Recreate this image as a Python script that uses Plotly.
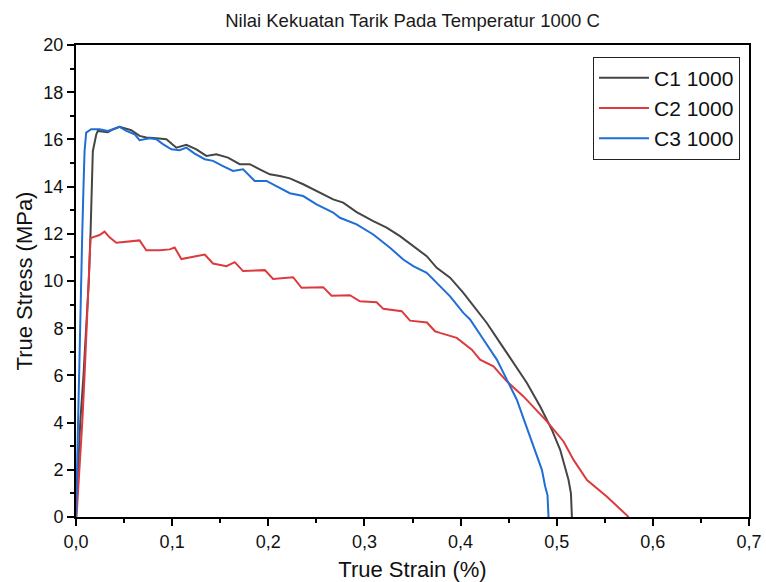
import plotly.graph_objects as go

# C1 1000 (black)
c1_strain = [0.0, 0.002, 0.0044, 0.0078, 0.0106, 0.0133, 0.0151, 0.0165, 0.0175, 0.021, 0.0227,
             0.0331, 0.0383, 0.0453, 0.0575, 0.0661, 0.0731, 0.0835, 0.094, 0.1044, 0.1148, 0.1252,
             0.1356, 0.146, 0.1581, 0.1703, 0.1807, 0.1911, 0.2016, 0.212, 0.2224, 0.2363, 0.2502,
             0.2675, 0.2779, 0.2919, 0.3092, 0.3231, 0.337, 0.3508, 0.3648, 0.3752, 0.3891, 0.4029,
             0.4169, 0.4273, 0.4411, 0.455, 0.469, 0.4828, 0.495, 0.5036, 0.5123, 0.5148, 0.5158]
c1_stress = [0.0, 2.0, 4.0, 6.0, 8.0, 10.0, 12.0, 14.0, 15.5, 16.2, 16.36,
             16.3, 16.42, 16.53, 16.39, 16.15, 16.08, 16.05, 16.01, 15.65, 15.77, 15.58,
             15.3, 15.37, 15.23, 14.95, 14.95, 14.73, 14.52, 14.45, 14.35, 14.1, 13.81,
             13.46, 13.32, 12.92, 12.54, 12.26, 11.9, 11.48, 11.05, 10.56, 10.14, 9.5,
             8.79, 8.22, 7.38, 6.53, 5.68, 4.68, 3.69, 2.85, 1.57, 1.0, 0.0]

# C2 1000 (red)
c2_strain = [0.0005, 0.0036, 0.0065, 0.0089, 0.0113, 0.0133, 0.0151, 0.0172, 0.0245, 0.0297, 0.0349,
             0.0419, 0.0557, 0.0661, 0.0731, 0.087, 0.0974, 0.1026, 0.1096, 0.1234, 0.1339, 0.1425,
             0.1565, 0.1651, 0.1738, 0.1964, 0.205, 0.2258, 0.2346, 0.2571, 0.2658, 0.2849, 0.2953,
             0.3127, 0.3196, 0.3388, 0.3474, 0.3651, 0.3734, 0.3786, 0.396, 0.4117, 0.4203, 0.4342,
             0.4481, 0.4654, 0.4898, 0.5071, 0.5175, 0.5315, 0.5523, 0.5748]
c2_stress = [0.0, 2.0, 4.0, 6.0, 8.0, 10.0, 11.8, 11.85, 11.95, 12.09, 11.85,
             11.62, 11.68, 11.72, 11.3, 11.3, 11.34, 11.42, 10.93, 11.05, 11.12, 10.74,
             10.63, 10.8, 10.42, 10.46, 10.09, 10.16, 9.71, 9.74, 9.38, 9.4, 9.14,
             9.1, 8.82, 8.72, 8.32, 8.24, 7.87, 7.8, 7.59, 7.09, 6.67, 6.38,
             5.75, 5.11, 4.05, 3.2, 2.42, 1.57, 0.86, 0.0]

# C3 1000 (blue)
c3_strain = [0.0, 0.001, 0.0026, 0.0036, 0.0047, 0.0057, 0.0065, 0.0078, 0.0089, 0.0106, 0.0158,
             0.0245, 0.0331, 0.0383, 0.0453, 0.0523, 0.0609, 0.0661, 0.0766, 0.0835, 0.0904, 0.0992,
             0.1078, 0.1148, 0.1234, 0.1339, 0.1425, 0.1529, 0.1633, 0.1738, 0.1859, 0.1981, 0.212,
             0.2224, 0.2363, 0.2502, 0.2675, 0.2745, 0.2919, 0.3092, 0.3266, 0.3404, 0.3508, 0.3648,
             0.3752, 0.3891, 0.4029, 0.4099, 0.4238, 0.4377, 0.4481, 0.4585, 0.4672, 0.4758, 0.4846,
             0.488, 0.4904, 0.4915]
c3_stress = [0.0, 2.0, 4.0, 6.0, 8.0, 10.0, 12.0, 14.0, 15.5, 16.29, 16.43,
             16.43, 16.36, 16.43, 16.53, 16.36, 16.22, 15.97, 16.05, 16.01, 15.8, 15.58,
             15.54, 15.65, 15.4, 15.16, 15.09, 14.87, 14.66, 14.73, 14.24, 14.24, 13.96,
             13.72, 13.6, 13.25, 12.9, 12.68, 12.4, 11.97, 11.41, 10.91, 10.63, 10.35,
             9.92, 9.35, 8.65, 8.37, 7.52, 6.67, 5.82, 4.97, 3.98, 2.99, 2.0,
             1.29, 0.93, 0.0]

series_names = ["C1 1000", "C2 1000", "C3 1000"]
series_colors = ["#454545", "#dc3a3e", "#1f6ed6"]

fig = go.Figure()
for name, xs, ys, col in zip(series_names,
                             [c1_strain, c2_strain, c3_strain],
                             [c1_stress, c2_stress, c3_stress],
                             series_colors):
    fig.add_trace(go.Scatter(x=xs, y=ys, mode="lines", name=name,
                             line=dict(color=col, width=2)))

font_family = "Liberation Sans, Arial, sans-serif"

fig.update_layout(
    width=766, height=582,
    margin=dict(l=76, r=17, t=45, b=65, autoexpand=False),
    paper_bgcolor="white", plot_bgcolor="white",
    separators=",.",
    font=dict(family=font_family, color="#111111"),
    title=dict(text="Nilai Kekuatan Tarik Pada Temperatur 1000 C",
               x=0.5, xref="paper", xanchor="center",
               y=1 - 21 / 582, yref="container", yanchor="middle",
               font=dict(size=18.5, color="#1a1a1a", family=font_family)),
    showlegend=True,
    legend=dict(x=0.9866, xanchor="right", y=0.9756, yanchor="top",
                bgcolor="white", bordercolor="#222222", borderwidth=1,
                font=dict(size=21, color="#111111"),
                itemwidth=50, tracegroupgap=0),
)

fig.update_xaxes(
    range=[0, 0.7], dtick=0.1, tick0=0, tickformat=".1f",
    showgrid=False, zeroline=False, automargin=False,
    showline=True, linecolor="black", linewidth=2, mirror=True,
    ticks="outside", ticklen=7, tickwidth=2, tickcolor="black",
    minor=dict(dtick=0.05, tick0=0, ticks="outside", ticklen=4, tickwidth=2, tickcolor="black", showgrid=False),
    tickfont=dict(size=18, color="#111111"),
    title=dict(text="True Strain (%)", font=dict(size=22, color="#111111"), standoff=13),
)
fig.update_yaxes(
    range=[0, 20], dtick=2, tick0=0,
    showgrid=False, zeroline=False, automargin=False,
    showline=True, linecolor="black", linewidth=2, mirror=True,
    ticks="outside", ticklen=7, tickwidth=2, tickcolor="black",
    minor=dict(dtick=1, tick0=0, ticks="outside", ticklen=4, tickwidth=2, tickcolor="black", showgrid=False),
    tickfont=dict(size=18, color="#111111"),
    title=dict(text="True Stress (MPa)", font=dict(size=22, color="#111111"), standoff=5),
)

fig.write_html("out.html")
